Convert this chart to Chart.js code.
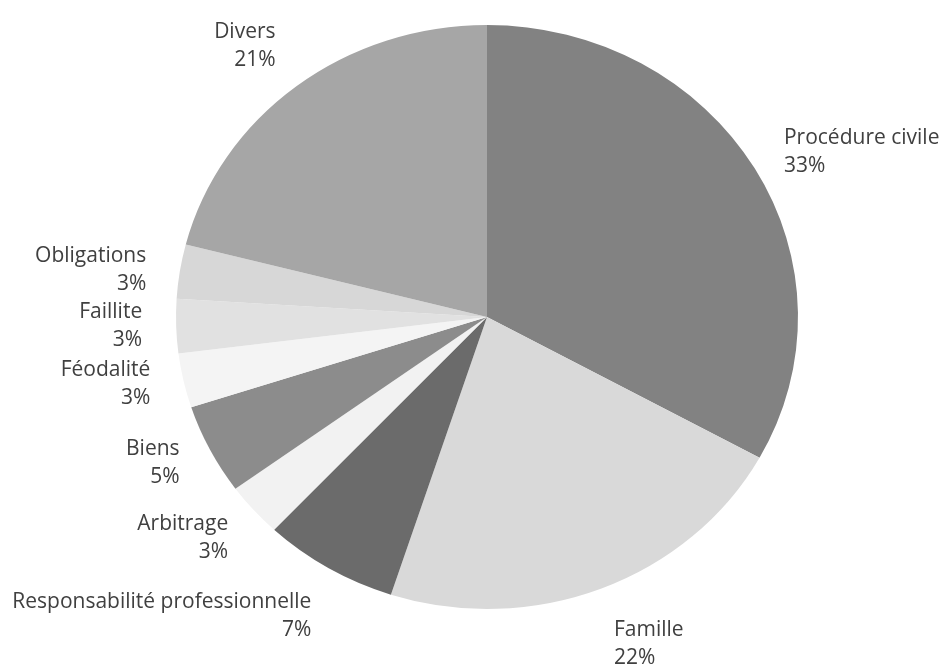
<!DOCTYPE html>
<html>
<head>
<meta charset="utf-8">
<script src="https://cdn.jsdelivr.net/npm/chart.js@4"></script>
<style>
  html, body { margin: 0; padding: 0; background: #fff; }
  canvas { display: block; }
</style>
</head>
<body>
<canvas id="pie" width="946" height="665"></canvas>
<script>
const categories = ['Procédure civile', 'Famille', 'Responsabilité professionnelle', 'Arbitrage', 'Biens', 'Féodalité', 'Faillite', 'Obligations', 'Divers']
const shares = [33, 22, 7, 3, 5, 3, 3, 3, 21]
const sliceColors = ['#828282', '#d9d9d9', '#6b6b6b', '#f2f2f2', '#8c8c8c', '#f4f4f4', '#e1e1e1', '#d7d7d7', '#a6a6a6']

// the original pie is a bit flatter than it is wide
const yScale = 292 / 311

const squashPie = {
    id: 'squashPie',
    beforeDatasetsDraw(chart) {
        const arc = chart.getDatasetMeta(0).data[0]
        const ctx = chart.ctx
        ctx.save()
        ctx.translate(arc.x, arc.y)
        ctx.scale(1, yScale)
        ctx.translate(-arc.x, -arc.y)
    },
    afterDatasetsDraw(chart) {
        chart.ctx.restore()
    }
}

const sliceLabels = {
    id: 'sliceLabels',
    afterDraw(chart) {
        const ctx = chart.ctx
        const meta = chart.getDatasetMeta(0)
        const values = chart.data.datasets[0].data
        const total = values.reduce((a, b) => a + b, 0)
        ctx.save()
        ctx.font = '21px "Open Sans"'
        ctx.fillStyle = '#404040'
        ctx.textBaseline = 'middle'
        meta.data.forEach((arc, i) => {
            const mid = (arc.startAngle + arc.endAngle) / 2
            const dx = Math.cos(mid)
            const dy = Math.sin(mid)
            const px = arc.x + arc.outerRadius * dx
            const py = arc.y + arc.outerRadius * yScale * dy
            const x = px + 34 * dx
            const cy = py + 64 * dy * Math.abs(dy)
            ctx.textAlign = dx >= 0 ? 'left' : 'right'
            ctx.fillText(chart.data.labels[i], x, cy - 14)
            ctx.fillText(Math.round(values[i] / total * 100) + '%', x, cy + 14)
        })
        ctx.restore()
    }
}

new Chart(document.getElementById('pie'), {
    type: 'pie',
    data: {
        labels: categories,
        datasets: [{
            data: shares,
            backgroundColor: sliceColors,
            borderWidth: 0
        }]
    },
    options: {
        responsive: false,
        animation: false,
        layout: { padding: { top: 6, bottom: 37, left: 100, right: 72 } },
        plugins: {
            legend: { display: false },
            tooltip: { enabled: false }
        }
    },
    plugins: [squashPie, sliceLabels]
})
</script>
</body>
</html>
